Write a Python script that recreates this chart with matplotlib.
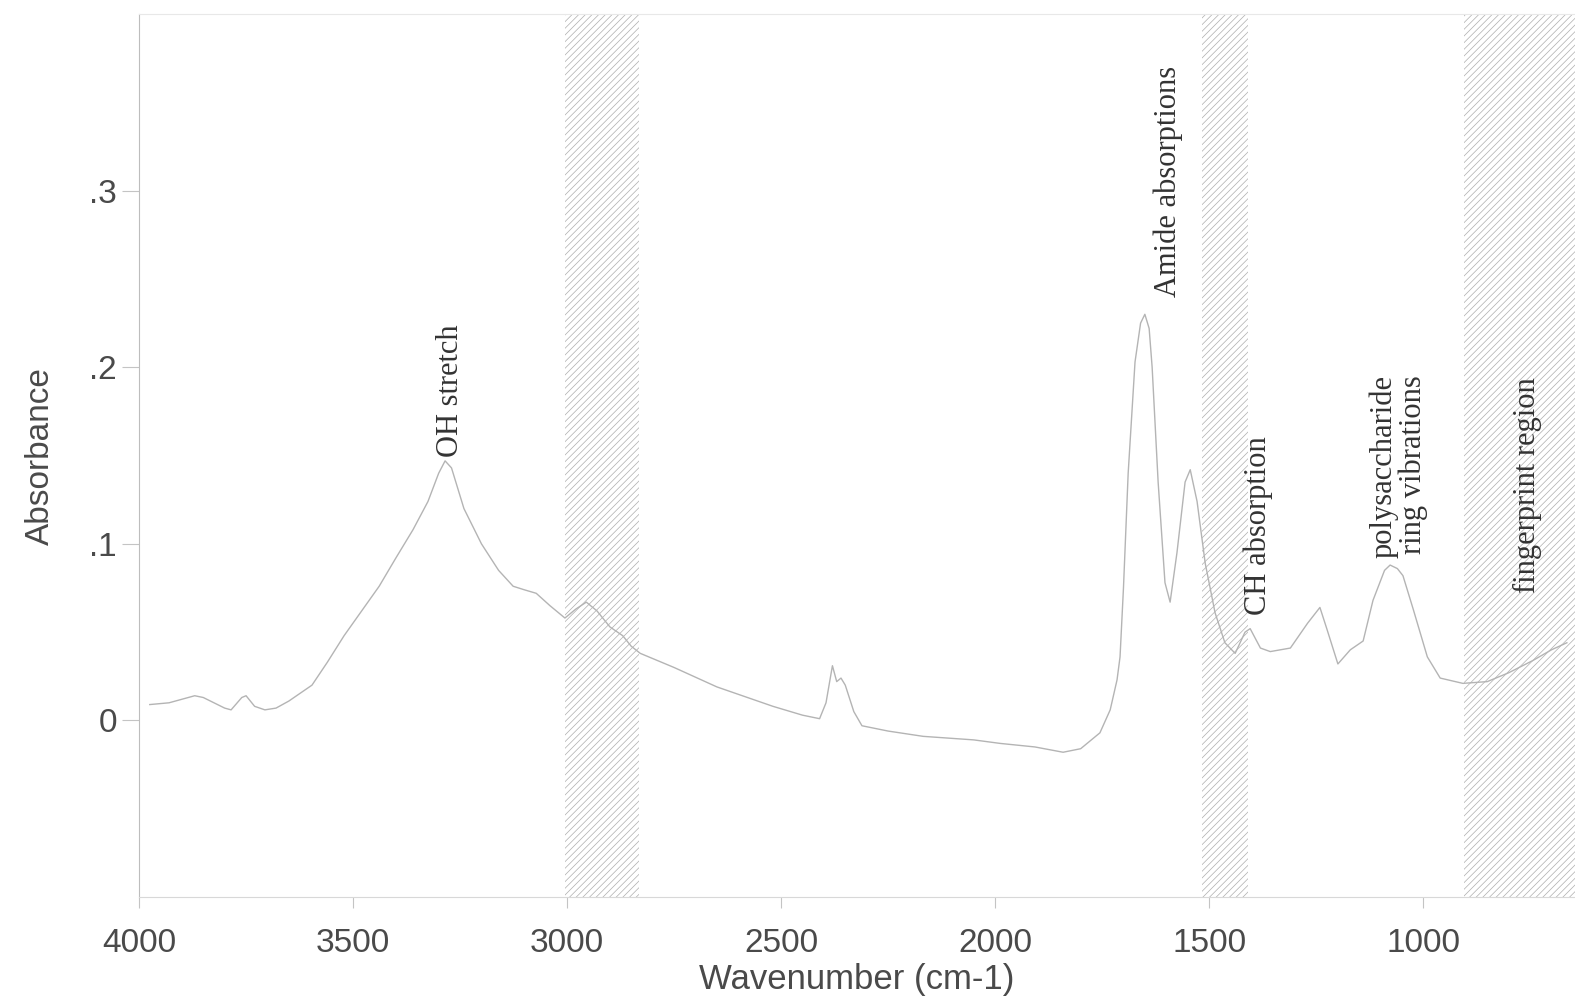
import matplotlib
matplotlib.use("Agg")
import matplotlib.pyplot as plt
from matplotlib.ticker import FixedLocator, FixedFormatter

# FTIR absorbance spectrum (wavenumber in cm-1, descending)
wavenumber = [3975, 3930, 3870, 3850, 3800, 3785, 3760, 3750, 3730, 3706,
              3680, 3650, 3620, 3596, 3560, 3521, 3480, 3439, 3400, 3360,
              3325, 3300, 3285, 3270, 3241, 3200, 3160, 3126, 3100, 3072,
              3040, 3005, 2980, 2955, 2930, 2900, 2870, 2850, 2829, 2750,
              2650, 2519, 2450, 2410, 2395, 2380, 2370, 2360, 2350, 2330,
              2311, 2250, 2168, 2050, 1988, 1907, 1841, 1800, 1770, 1755,
              1731, 1715, 1708, 1700, 1689, 1673, 1660, 1650, 1640, 1633,
              1619, 1603, 1591, 1575, 1556, 1544, 1528, 1509, 1486, 1463,
              1439, 1416, 1404, 1380, 1357, 1310, 1270, 1241, 1225, 1199,
              1170, 1140, 1117, 1090, 1077, 1060, 1047, 1023, 990, 960,
              907, 850, 800, 743, 700, 664]
absorbance = [0.009, 0.010, 0.014, 0.013, 0.007, 0.006, 0.013, 0.014, 0.008, 0.006,
              0.007, 0.011, 0.016, 0.020, 0.033, 0.048, 0.062, 0.076, 0.092, 0.108,
              0.124, 0.140, 0.147, 0.143, 0.120, 0.100, 0.085, 0.076, 0.074, 0.072,
              0.065, 0.058, 0.063, 0.067, 0.062, 0.053, 0.048, 0.042, 0.038, 0.030,
              0.019, 0.008, 0.003, 0.001, 0.010, 0.031, 0.022, 0.024, 0.020, 0.005,
              -0.003, -0.006, -0.009, -0.011, -0.013, -0.015, -0.018, -0.016, -0.010, -0.007,
              0.006, 0.023, 0.036, 0.075, 0.140, 0.203, 0.225, 0.230, 0.222, 0.200,
              0.135, 0.078, 0.067, 0.095, 0.135, 0.142, 0.124, 0.089, 0.061, 0.044,
              0.038, 0.050, 0.052, 0.041, 0.039, 0.041, 0.055, 0.064, 0.052, 0.032,
              0.040, 0.045, 0.068, 0.085, 0.088, 0.086, 0.082, 0.063, 0.036, 0.024,
              0.021, 0.022, 0.027, 0.034, 0.040, 0.044]

# Shaded bands (start, end) in cm-1
band_starts = [3005, 1516, 905]
band_ends = [2832, 1410, 640]

# Band annotations
note_texts = ["OH stretch", "Amide absorptions", "CH absorption",
              "polysaccharide\nring vibrations", "fingerprint region"]
note_x = [3273, 1596, 1386, 1058, 757]
note_y = [0.149, 0.240, 0.060, 0.092, 0.072]

x_ticks = [4000, 3500, 3000, 2500, 2000, 1500, 1000]
x_tick_labels = ["4000", "3500", "3000", "2500", "2000", "1500", "1000"]
y_ticks = [0.0, 0.1, 0.2, 0.3]
y_tick_labels = ["0", ".1", ".2", ".3"]

plt.rcParams["hatch.linewidth"] = 0.5
plt.rcParams["hatch.color"] = "#adadad"

fig = plt.figure(figsize=(15.75, 10.06), dpi=100)
ax = fig.add_axes([0.0883, 0.1083, 0.9117, 0.8777])

for s, e in zip(band_starts, band_ends):
    ax.axvspan(s, e, facecolor="white", edgecolor="#adadad", hatch="/////",
               linewidth=0, zorder=1)

ax.plot(wavenumber, absorbance, color="#b4b4b4", linewidth=1.0, zorder=2)

ax.set_xlim(4000, 645)
ax.set_ylim(-0.1, 0.4)

ax.xaxis.set_major_locator(FixedLocator(x_ticks))
ax.xaxis.set_major_formatter(FixedFormatter(x_tick_labels))
ax.yaxis.set_major_locator(FixedLocator(y_ticks))
ax.yaxis.set_major_formatter(FixedFormatter(y_tick_labels))

for lab in ax.get_xticklabels() + ax.get_yticklabels():
    lab.set_fontfamily("Liberation Sans")
    lab.set_fontsize(24)
    lab.set_color("#4a4a4a")

ax.tick_params(axis="x", length=8, width=0.8, color="#c4c4c4", pad=14)
ax.tick_params(axis="y", length=12, width=0.8, color="#c4c4c4", pad=4)

ax.spines["right"].set_visible(False)
ax.spines["left"].set_color("#bdbdbd")
ax.spines["left"].set_linewidth(0.8)
ax.spines["bottom"].set_color("#d8d8d8")
ax.spines["bottom"].set_linewidth(0.8)
ax.spines["top"].set_color("#e8e8e8")
ax.spines["top"].set_linewidth(0.8)

ax.set_xlabel("Wavenumber (cm-1)", fontfamily="Liberation Sans", fontsize=25,
              color="#4a4a4a", labelpad=3)
ax.set_ylabel("Absorbance", fontfamily="Liberation Sans", fontsize=24,
              color="#4a4a4a", labelpad=24)

for txt, x, y in zip(note_texts, note_x, note_y):
    ax.text(x, y, txt, rotation=90, ha="center", va="bottom",
            multialignment="right", fontfamily="Liberation Serif",
            fontsize=22, color="#333333", linespacing=1.0, zorder=3)

fig.savefig("out.png", dpi=100, facecolor="white")
